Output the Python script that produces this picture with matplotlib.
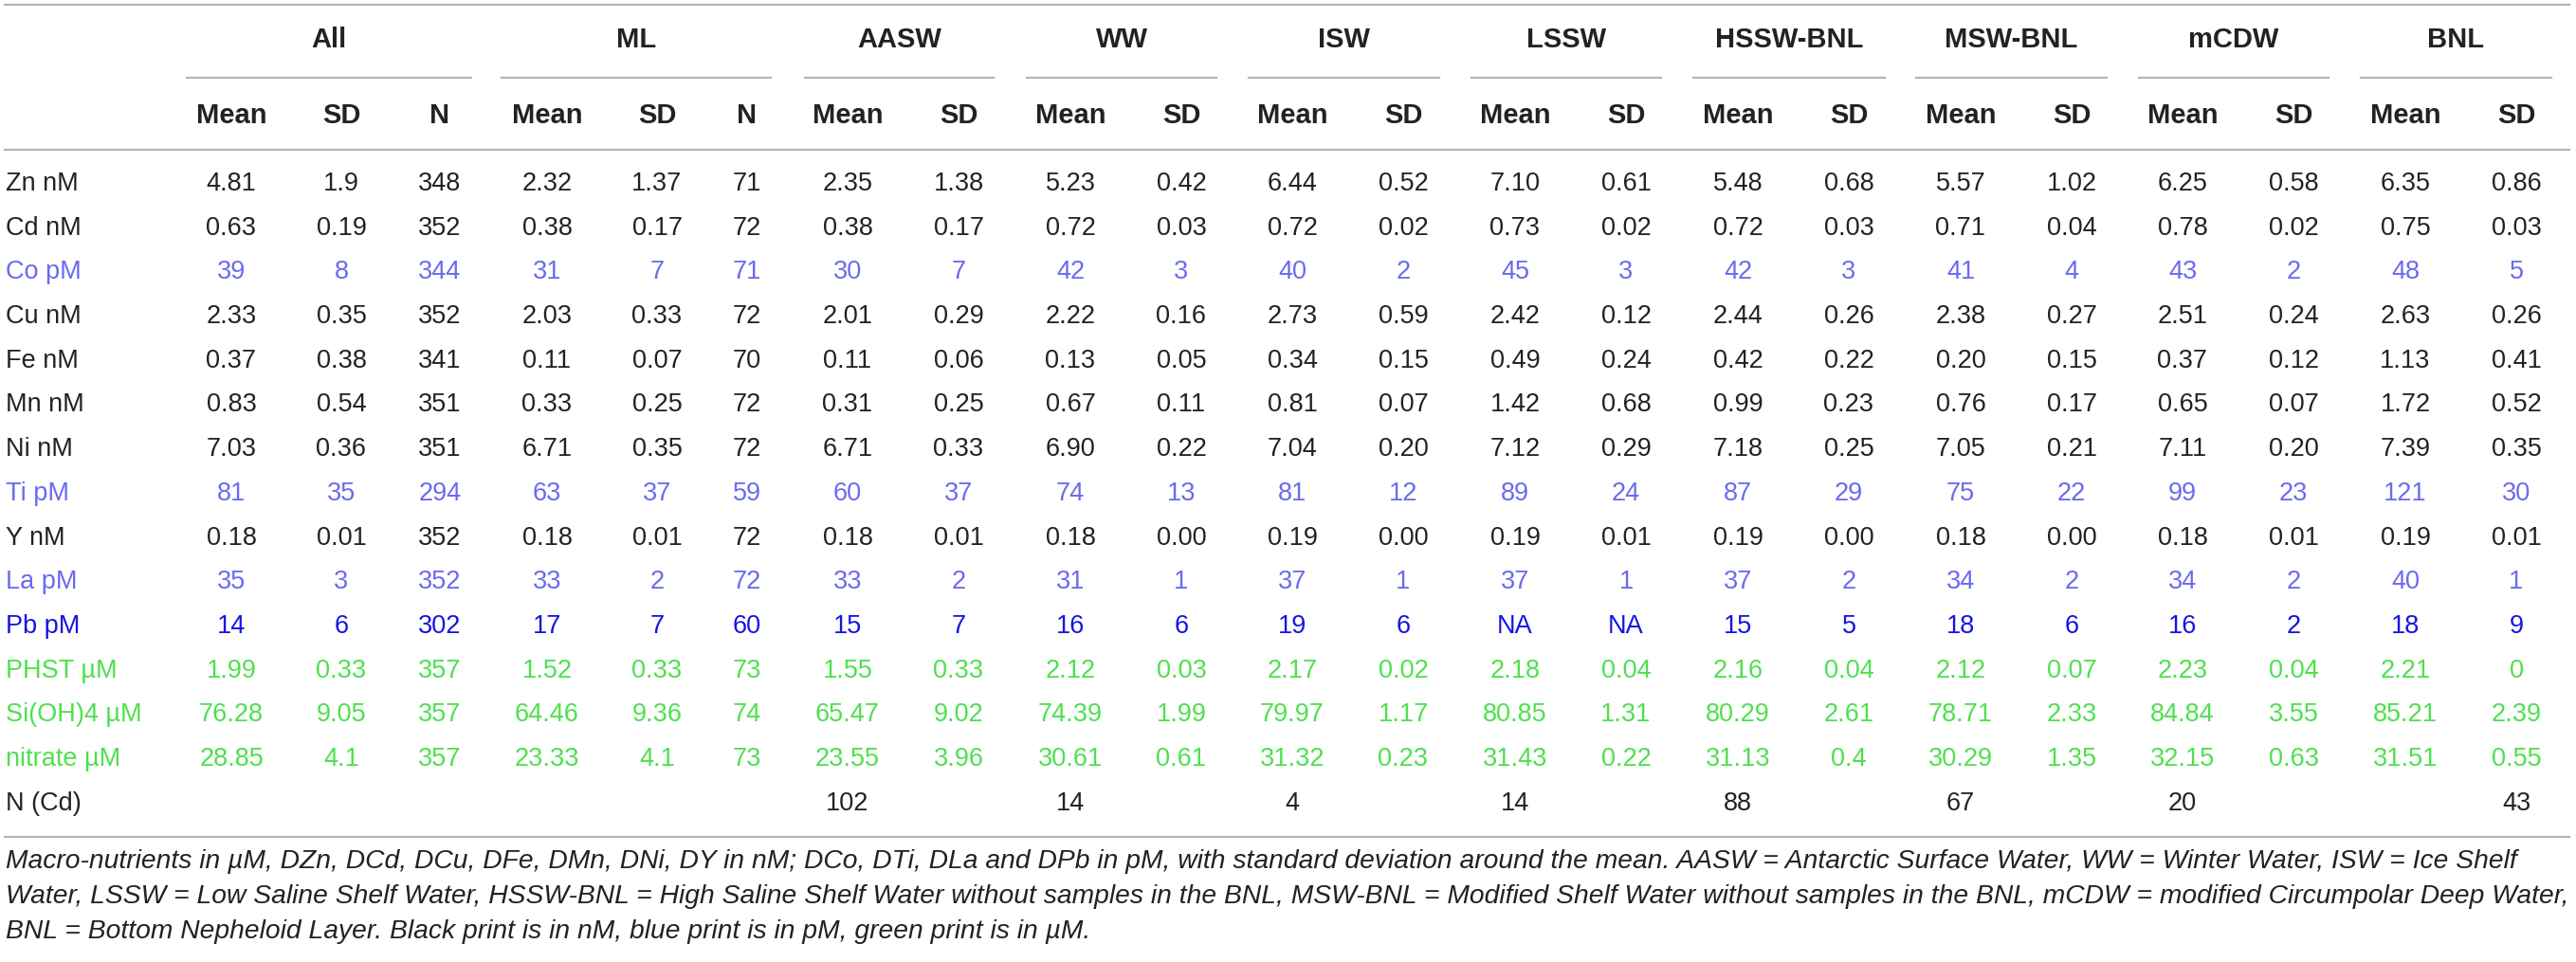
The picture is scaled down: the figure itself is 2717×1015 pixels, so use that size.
import matplotlib
matplotlib.use("Agg")
import matplotlib.pyplot as plt

plt.rcParams['font.family'] = ['Liberation Sans', 'DejaVu Sans']

row_labels = ["Zn nM", "Cd nM", "Co pM", "Cu nM", "Fe nM", "Mn nM", "Ni nM", "Ti pM",
              "Y nM", "La pM", "Pb pM", "PHST µM", "Si(OH)4 µM", "nitrate µM", "N (Cd)"]
row_units = ["n", "n", "p", "n", "n", "n", "n", "p", "n", "p", "pb", "u", "u", "u", "n"]

groups = ["All", "ML", "AASW", "WW", "ISW", "LSSW", "HSSW-BNL", "MSW-BNL", "mCDW", "BNL"]

all_mean = ["4.81", "0.63", "39", "2.33", "0.37", "0.83", "7.03", "81", "0.18", "35", "14", "1.99", "76.28", "28.85", ""]
all_sd = ["1.9", "0.19", "8", "0.35", "0.38", "0.54", "0.36", "35", "0.01", "3", "6", "0.33", "9.05", "4.1", ""]
all_n = ["348", "352", "344", "352", "341", "351", "351", "294", "352", "352", "302", "357", "357", "357", ""]
ml_mean = ["2.32", "0.38", "31", "2.03", "0.11", "0.33", "6.71", "63", "0.18", "33", "17", "1.52", "64.46", "23.33", ""]
ml_sd = ["1.37", "0.17", "7", "0.33", "0.07", "0.25", "0.35", "37", "0.01", "2", "7", "0.33", "9.36", "4.1", ""]
ml_n = ["71", "72", "71", "72", "70", "72", "72", "59", "72", "72", "60", "73", "74", "73", ""]
aasw_mean = ["2.35", "0.38", "30", "2.01", "0.11", "0.31", "6.71", "60", "0.18", "33", "15", "1.55", "65.47", "23.55", "102"]
aasw_sd = ["1.38", "0.17", "7", "0.29", "0.06", "0.25", "0.33", "37", "0.01", "2", "7", "0.33", "9.02", "3.96", ""]
ww_mean = ["5.23", "0.72", "42", "2.22", "0.13", "0.67", "6.90", "74", "0.18", "31", "16", "2.12", "74.39", "30.61", "14"]
ww_sd = ["0.42", "0.03", "3", "0.16", "0.05", "0.11", "0.22", "13", "0.00", "1", "6", "0.03", "1.99", "0.61", ""]
isw_mean = ["6.44", "0.72", "40", "2.73", "0.34", "0.81", "7.04", "81", "0.19", "37", "19", "2.17", "79.97", "31.32", "4"]
isw_sd = ["0.52", "0.02", "2", "0.59", "0.15", "0.07", "0.20", "12", "0.00", "1", "6", "0.02", "1.17", "0.23", ""]
lssw_mean = ["7.10", "0.73", "45", "2.42", "0.49", "1.42", "7.12", "89", "0.19", "37", "NA", "2.18", "80.85", "31.43", "14"]
lssw_sd = ["0.61", "0.02", "3", "0.12", "0.24", "0.68", "0.29", "24", "0.01", "1", "NA", "0.04", "1.31", "0.22", ""]
hssw_mean = ["5.48", "0.72", "42", "2.44", "0.42", "0.99", "7.18", "87", "0.19", "37", "15", "2.16", "80.29", "31.13", "88"]
hssw_sd = ["0.68", "0.03", "3", "0.26", "0.22", "0.23", "0.25", "29", "0.00", "2", "5", "0.04", "2.61", "0.4", ""]
msw_mean = ["5.57", "0.71", "41", "2.38", "0.20", "0.76", "7.05", "75", "0.18", "34", "18", "2.12", "78.71", "30.29", "67"]
msw_sd = ["1.02", "0.04", "4", "0.27", "0.15", "0.17", "0.21", "22", "0.00", "2", "6", "0.07", "2.33", "1.35", ""]
mcdw_mean = ["6.25", "0.78", "43", "2.51", "0.37", "0.65", "7.11", "99", "0.18", "34", "16", "2.23", "84.84", "32.15", "20"]
mcdw_sd = ["0.58", "0.02", "2", "0.24", "0.12", "0.07", "0.20", "23", "0.01", "2", "2", "0.04", "3.55", "0.63", ""]
bnl_mean = ["6.35", "0.75", "48", "2.63", "1.13", "1.72", "7.39", "121", "0.19", "40", "18", "2.21", "85.21", "31.51", ""]
bnl_sd = ["0.86", "0.03", "5", "0.26", "0.41", "0.52", "0.35", "30", "0.01", "1", "9", "0", "2.39", "0.55", "43"]

caption = [
    "Macro-nutrients in µM, DZn, DCd, DCu, DFe, DMn, DNi, DY in nM; DCo, DTi, DLa and DPb in pM, with standard deviation around the mean. AASW = Antarctic Surface Water, WW = Winter Water, ISW = Ice Shelf",
    "Water, LSSW = Low Saline Shelf Water, HSSW-BNL = High Saline Shelf Water without samples in the BNL, MSW-BNL = Modified Shelf Water without samples in the BNL, mCDW = modified Circumpolar Deep Water,",
    "BNL = Bottom Nepheloid Layer. Black print is in nM, blue print is in pM, green print is in µM.",
]

colors = {"n": "#222222", "p": "#6a6af0", "pb": "#1414e6", "u": "#4ee04e"}

# column layout (pixels)
cols = [
    ("All", [("Mean", 244, all_mean), ("SD", 360, all_sd), ("N", 464, all_n)], (197, 497)),
    ("ML", [("Mean", 577, ml_mean), ("SD", 693, ml_sd), ("N", 788, ml_n)], (529, 813)),
    ("AASW", [("Mean", 894, aasw_mean), ("SD", 1011, aasw_sd)], (849, 1048)),
    ("WW", [("Mean", 1129, ww_mean), ("SD", 1246, ww_sd)], (1083, 1283)),
    ("ISW", [("Mean", 1363, isw_mean), ("SD", 1480, isw_sd)], (1317, 1518)),
    ("LSSW", [("Mean", 1598, lssw_mean), ("SD", 1715, lssw_sd)], (1552, 1752)),
    ("HSSW-BNL", [("Mean", 1833, hssw_mean), ("SD", 1950, hssw_sd)], (1786, 1988)),
    ("MSW-BNL", [("Mean", 2068, msw_mean), ("SD", 2185, msw_sd)], (2021, 2222)),
    ("mCDW", [("Mean", 2302, mcdw_mean), ("SD", 2419, mcdw_sd)], (2256, 2456)),
    ("BNL", [("Mean", 2537, bnl_mean), ("SD", 2654, bnl_sd)], (2490, 2691)),
]

W, H = 2717, 1015
fig = plt.figure(figsize=(W / 100, H / 100), dpi=100)
ax = fig.add_axes([0, 0, 1, 1])
ax.set_xlim(0, W)
ax.set_ylim(H, 0)
ax.axis("off")

line_c = "#b4b4b4"
lw = 1.6
fs = 19.5
hfs = 21

ax.plot([5, 2710], [5, 5], color=line_c, lw=lw)
ax.plot([5, 2710], [158, 158], color=line_c, lw=lw)
ax.plot([5, 2710], [883, 883], color=line_c, lw=lw)

y0, dy = 194, 46.7
for gname, subs, (x1, x2) in cols:
    ax.text((x1 + x2) / 2, 42, gname, ha="center", va="center", fontsize=hfs,
            fontweight="bold", color="#222222")
    ax.plot([x1, x2], [82, 82], color=line_c, lw=lw)
    for sname, x, vals in subs:
        ax.text(x, 122, sname, ha="center", va="center", fontsize=hfs,
                fontweight="bold", color="#222222")
        for i, v in enumerate(vals):
            ax.text(x, y0 + i * dy, v, ha="center", va="center", fontsize=fs,
                    color=colors[row_units[i]])

for i, lab in enumerate(row_labels):
    ax.text(6, y0 + i * dy, lab, ha="left", va="center", fontsize=fs,
            color=colors[row_units[i]])

for k, line in enumerate(caption):
    ax.text(6, 909 + k * 37, line, ha="left", va="center", fontsize=20.3,
            style="italic", color="#222222")

fig.savefig("out.png", dpi=100)
